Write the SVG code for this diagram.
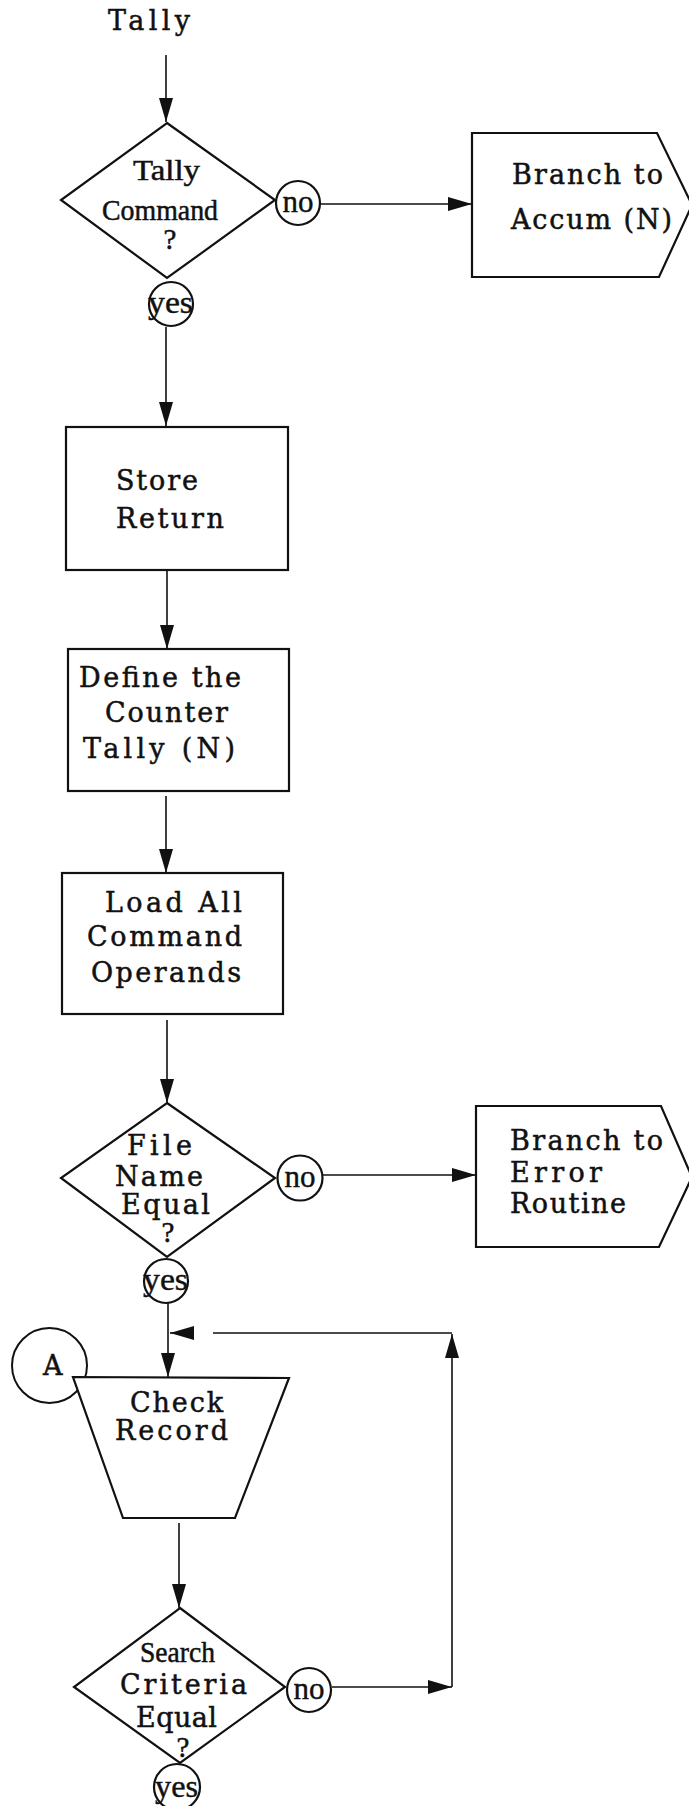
<svg xmlns="http://www.w3.org/2000/svg" width="689" height="1806" viewBox="0 0 689 1806">
<style>
.shape{fill:#fff;stroke:#111;stroke-width:2.2}
.conn{fill:none;stroke:#111;stroke-width:1.6}
.t{font-family:"DejaVu Serif","Liberation Serif",serif;font-size:27px;fill:#111;stroke:#111;stroke-width:0.5}
.c{font-family:"Liberation Serif","DejaVu Serif",serif;font-size:29px;fill:#111;stroke:#111;stroke-width:0.5}
.n{font-family:"Liberation Serif","DejaVu Serif",serif;font-size:31px;fill:#111;stroke:#111;stroke-width:0.4}
.m{text-anchor:middle}
</style>
<defs>
<marker id="arr" viewBox="0 0 24 14" refX="24" refY="7" markerWidth="24" markerHeight="14" markerUnits="userSpaceOnUse" orient="auto">
<path d="M0,0 L24,7 L0,14 z" fill="#111"/>
</marker>
</defs>
<rect width="689" height="1806" fill="#fff"/>

<g id="start">
<text class="t" x="108" y="30" textLength="82" lengthAdjust="spacing">Tally</text>
</g>

<g id="connectors">
<path class="conn" d="M166,55 V122" marker-end="url(#arr)"/>
<path class="conn" d="M321,204 H472" marker-end="url(#arr)"/>
<path class="conn" d="M166,327 V426" marker-end="url(#arr)"/>
<path class="conn" d="M167,571 V649" marker-end="url(#arr)"/>
<path class="conn" d="M166,796 V873" marker-end="url(#arr)"/>
<path class="conn" d="M167,1020 V1103" marker-end="url(#arr)"/>
<path class="conn" d="M323,1175 H476" marker-end="url(#arr)"/>
<path class="conn" d="M168,1303 V1377" marker-end="url(#arr)"/>
<path class="conn" d="M179,1523 V1608" marker-end="url(#arr)"/>
<path class="conn" d="M332,1687 H452" marker-end="url(#arr)"/>
<path class="conn" d="M452,1687 V1334" marker-end="url(#arr)"/>
<path class="conn" d="M452,1333 H213"/>
<path class="conn" d="M193,1333 H170" marker-end="url(#arr)"/>
</g>

<g id="tally-command">
<polygon class="shape" points="167,123 275,200 167,278 61,200"/>
<text class="c" x="133" y="180" textLength="67" lengthAdjust="spacingAndGlyphs">Tally</text>
<text class="c" x="102" y="220" textLength="116" lengthAdjust="spacingAndGlyphs">Command</text>
<text class="c m" x="170" y="249">?</text>
</g>
<g id="no1">
<circle class="shape" cx="298" cy="203" r="22"/>
<text class="n m" x="298" y="212">no</text>
</g>
<g id="yes1">
<circle class="shape" cx="171" cy="304" r="22"/>
<text class="n" x="148" y="313" textLength="45" lengthAdjust="spacingAndGlyphs">yes</text>
</g>
<g id="branch-accum">
<polygon class="shape" points="472,133 657,133 692,205 659,277 472,277"/>
<text class="t" x="512" y="184" textLength="151" lengthAdjust="spacing">Branch to</text>
<text class="t" x="511" y="229" textLength="161" lengthAdjust="spacing">Accum (N)</text>
</g>

<g id="store-return">
<rect class="shape" x="66" y="427" width="222" height="143"/>
<text class="t" x="116" y="490" textLength="82" lengthAdjust="spacing">Store</text>
<text class="t" x="116" y="528" textLength="108" lengthAdjust="spacing">Return</text>
</g>

<g id="define-counter">
<rect class="shape" x="68" y="649" width="221" height="142"/>
<text class="t" x="79" y="687" textLength="162" lengthAdjust="spacing">Define the</text>
<text class="t" x="105" y="722" textLength="123" lengthAdjust="spacing">Counter</text>
<text class="t" x="83" y="758" textLength="152" lengthAdjust="spacing">Tally  (N)</text>
</g>

<g id="load-operands">
<rect class="shape" x="62" y="873" width="221" height="141"/>
<text class="t" x="105" y="912" textLength="137" lengthAdjust="spacing">Load All</text>
<text class="t" x="87" y="946" textLength="155" lengthAdjust="spacing">Command</text>
<text class="t" x="91" y="982" textLength="150" lengthAdjust="spacing">Operands</text>
</g>

<g id="file-name-equal">
<polygon class="shape" points="167,1103 275,1178 167,1257 61,1178"/>
<text class="t" x="127" y="1155" textLength="65" lengthAdjust="spacing">File</text>
<text class="t" x="115" y="1186" textLength="88" lengthAdjust="spacing">Name</text>
<text class="t" x="121" y="1214" textLength="89" lengthAdjust="spacing">Equal</text>
<text class="c m" x="168" y="1242">?</text>
</g>
<g id="no2">
<circle class="shape" cx="300" cy="1178" r="22.5"/>
<text class="n m" x="300" y="1187">no</text>
</g>
<g id="yes2">
<circle class="shape" cx="166" cy="1281" r="22"/>
<text class="n" x="143" y="1290" textLength="45" lengthAdjust="spacingAndGlyphs">yes</text>
</g>
<g id="branch-error">
<polygon class="shape" points="476,1106 661,1106 692,1177 659,1247 476,1247"/>
<text class="t" x="510" y="1150" textLength="153" lengthAdjust="spacing">Branch to</text>
<text class="t" x="510" y="1182" textLength="92" lengthAdjust="spacing">Error</text>
<text class="t" x="510" y="1213" textLength="116" lengthAdjust="spacing">Routine</text>
</g>

<g id="connector-a">
<circle class="conn" cx="49.5" cy="1365.5" r="37.5" style="stroke-width:2"/>
<text class="t" x="43" y="1375">A</text>
</g>
<g id="check-record">
<polygon class="shape" points="73,1377 289,1378 235,1518 123,1518"/>
<text class="t" x="130" y="1412" textLength="93" lengthAdjust="spacing">Check</text>
<text class="t" x="115" y="1440" textLength="113" lengthAdjust="spacing">Record</text>
</g>

<g id="search-criteria-equal">
<polygon class="shape" points="180,1608 285,1687 180,1763 74,1687"/>
<text class="c" x="140" y="1662" textLength="75" lengthAdjust="spacingAndGlyphs">Search</text>
<text class="t" x="120" y="1694" textLength="127" lengthAdjust="spacing">Criteria</text>
<text class="t" x="136" y="1727" textLength="81" lengthAdjust="spacing">Equal</text>
<text class="c m" x="183" y="1757">?</text>
</g>
<g id="no3">
<circle class="shape" cx="309" cy="1690" r="22"/>
<text class="n m" x="309" y="1699">no</text>
</g>
<g id="yes3">
<circle class="shape" cx="177" cy="1787" r="23"/>
<text class="n" x="155" y="1797" textLength="43" lengthAdjust="spacingAndGlyphs">yes</text>
</g>
</svg>
